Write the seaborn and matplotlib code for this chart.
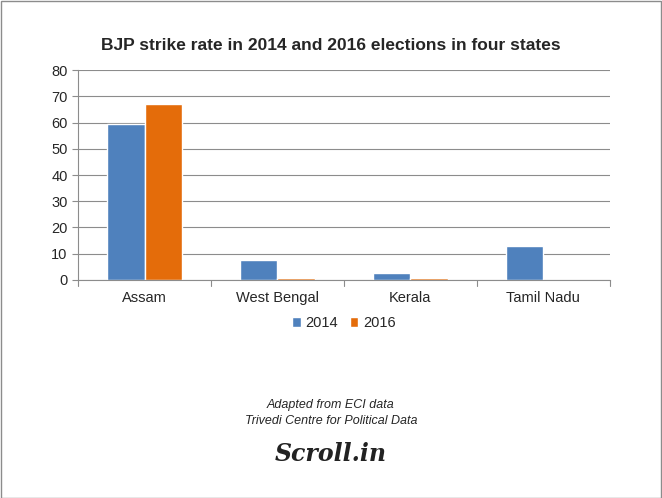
import matplotlib
matplotlib.use("Agg")
import matplotlib.pyplot as plt
import seaborn as sns
import pandas as pd

states = ["Assam", "West Bengal", "Kerala", "Tamil Nadu"]
v2014 = [59.3, 7.7, 2.7, 12.8]
v2016 = [67.3, 0.9, 0.9, 0.0]
yticks = [0, 10, 20, 30, 40, 50, 60, 70, 80]

df = pd.DataFrame({"state": states * 2, "value": v2014 + v2016,
                   "year": ["2014"] * 4 + ["2016"] * 4})

sns.set_style("white")
plt.rcParams['font.family'] = ['Liberation Sans', 'DejaVu Sans']
fig = plt.figure(figsize=(6.62, 4.98), dpi=100)
ax = fig.add_axes([0.118, 0.438, 0.803, 0.421])
sns.barplot(data=df, x="state", y="value", hue="year", palette=["#4F81BD", "#E46C0A"],
            width=0.56, gap=0, ax=ax, saturation=1)
ax.set_ylim(0, 80)
ax.set_yticks(yticks)
ax.set_xlim(-0.5, 3.5)
ax.yaxis.grid(True, color="#8C8C8C", lw=0.8)
ax.set_axisbelow(True)
for s in ["top", "right"]:
    ax.spines[s].set_visible(False)
ax.spines["left"].set_color("#8C8C8C")
ax.spines["bottom"].set_color("#8C8C8C")
ax.set_xlabel(""); ax.set_ylabel("")
ax.set_xticks([0, 1, 2, 3])
ax.set_xticklabels(states)
ax.tick_params(axis="x", length=0, labelsize=10.5, pad=8)
ax.tick_params(axis="y", labelsize=10.5, left=True, length=4, color="#8C8C8C")
for b in [-0.5, 0.5, 1.5, 2.5, 3.5]:
    ax.plot([b, b], [0, -2.2], color="#8C8C8C", lw=0.8, clip_on=False)
ax.legend(loc="upper center", bbox_to_anchor=(0.5, -0.11), ncol=2, frameon=False,
          fontsize=10.5, handlelength=0.6, handleheight=0.6, columnspacing=0.8, handletextpad=0.3)
fig.text(0.5, 0.9, "BJP strike rate in 2014 and 2016 elections in four states",
         ha="center", fontsize=12.5, fontweight="bold")
fig.text(0.5, 0.18, "Adapted from ECI data", ha="center", fontsize=9, style="italic")
fig.text(0.5, 0.148, "Trivedi Centre for Political Data", ha="center", fontsize=9, style="italic")
fig.text(0.5, 0.075, "Scroll.in", ha="center", fontsize=17, style="italic", fontweight="bold",
         family=["DejaVu Serif"], color="#222222")
fig.patches.append(plt.Rectangle((0.001, 0.001), 0.997, 0.997, transform=fig.transFigure,
                                 fill=False, ec="#8C8C8C", lw=1))
fig.savefig("out.png", dpi=100)
